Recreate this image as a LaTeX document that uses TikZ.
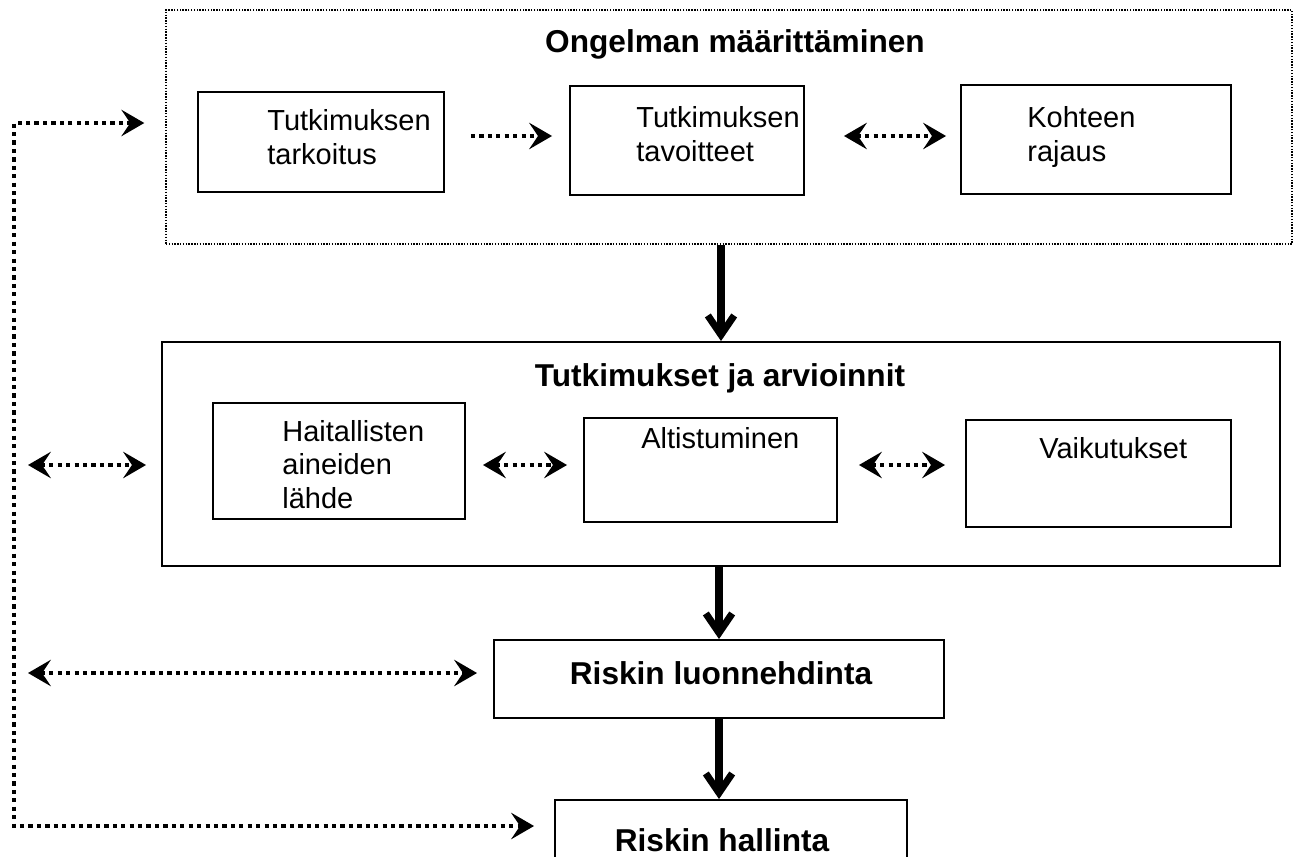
\documentclass[tikz,border=0pt]{standalone}
\usepackage{fontspec}
\setmainfont{Liberation Sans}
\usetikzlibrary{arrows.meta,positioning}

\tikzset{
  box/.style={shape=rectangle, draw=black, line width=1.1pt, inner sep=0pt},
  dotbox/.style={shape=rectangle, draw=black, line width=0.8pt, dash pattern=on 0.8pt off 0.8pt, inner sep=0pt},
  txt/.style={inner sep=0pt, align=left, font=\fontsize{16.5pt}{19pt}\selectfont},
  ttl/.style={inner sep=0pt, font=\fontsize{18pt}{21pt}\selectfont\bfseries},
  dotline/.style={line width=2.4pt, dash pattern=on 2.4pt off 2.4pt},
  tip/.tip={Stealth[length=13pt,width=15pt,inset=5pt]},
  bigarrow/.style={line width=4pt, -{Straight Barb[length=11pt,width=15pt]}}
}

\begin{document}
\begin{tikzpicture}[x=0.02cm,y=-0.02cm]
  \useasboundingbox (0,0) rectangle (1300,856);

  % problem definition
  \node[dotbox, minimum width=1126*0.02cm, minimum height=234*0.02cm] (o1) at (729,127) {};
  \node[ttl] (o1t) at (735,44) {Ongelman määrittäminen};
  \node[box, minimum width=246*0.02cm, minimum height=100*0.02cm] (tark) at (321,142) {};
  \node[box, minimum width=234*0.02cm, minimum height=109*0.02cm] (tav) at (687,140.5) {};
  \node[box, minimum width=270*0.02cm, minimum height=109*0.02cm] (koh) at (1096,139.5) {};
  \node[txt, anchor=base west] (tarkt) at ([shift={(70,73)}]tark.north west) {Tutkimuksen\\tarkoitus};
  \node[txt, anchor=base west] (tavt) at ([shift={(67,76)}]tav.north west) {Tutkimuksen\\tavoitteet};
  \node[txt, anchor=base west] (koht) at ([shift={(67,77)}]koh.north west) {Kohteen\\rajaus};
  \draw[dotline, -tip] ([shift={(26,0)}]tark.east|-0,136) -- ([shift={(-17,0)}]tav.west|-0,136);
  \draw[dotline, tip-tip] ([shift={(39,0)}]tav.east|-0,136) -- ([shift={(-14,0)}]koh.west|-0,136);

  % studies and assessments
  \node[box, minimum width=1118*0.02cm, minimum height=224*0.02cm] (o2) at (721,454) {};
  \node[ttl] (o2t) at (720,378) {Tutkimukset ja arvioinnit};
  \node[box, minimum width=252*0.02cm, minimum height=116*0.02cm] (hai) at (339,461) {};
  \node[box, minimum width=253*0.02cm, minimum height=104*0.02cm] (alt) at (710.5,470) {};
  \node[box, minimum width=265*0.02cm, minimum height=107*0.02cm] (vai) at (1098.5,473.5) {};
  \node[txt, anchor=base west] (hait) at ([shift={(70,106)}]hai.north west) {Haitallisten\\aineiden\\lähde};
  \node[txt, anchor=base west] (altt) at ([shift={(58,31)}]alt.north west) {Altistuminen};
  \node[txt, anchor=base west] (vait) at ([shift={(74,39)}]vai.north west) {Vaikutukset};
  \draw[dotline, tip-tip] ([shift={(17,0)}]hai.east|-0,465) -- ([shift={(-16,0)}]alt.west|-0,465);
  \draw[dotline, tip-tip] ([shift={(21,0)}]alt.east|-0,465) -- ([shift={(-20,0)}]vai.west|-0,465);

  % risk characterisation and management
  \node[box, minimum width=450*0.02cm, minimum height=78*0.02cm] (luo) at (719,679) {};
  \node[ttl] (luot) at (721,673) {Riskin luonnehdinta};
  \node[box, minimum width=352*0.02cm, minimum height=80*0.02cm] (hal) at (731,840) {};
  \node[ttl] (halt) at (722,840) {Riskin hallinta};

  \draw[bigarrow] (o1.south -| o2.north) -- (o2.north);
  \draw[bigarrow] (o2.south -| luo.north) -- (luo.north);
  \draw[bigarrow] (luo.south) -- (luo.south |- hal.north);

  % feedback on the left
  \coordinate (lt) at (14,123);
  \coordinate (lb) at (14,826);
  \draw[dotline, tip-tip] ([shift={(-21,0)}]o1.west|-lt) -- (lt) -- (lb) -- ([shift={(-20,0)}]hal.west|-lb);
  \coordinate (l2) at (28,465);
  \coordinate (l3) at (28,673);
  \draw[dotline, tip-tip] (l2) -- ([shift={(-15,0)}]o2.west|-l2);
  \draw[dotline, tip-tip] (l3) -- ([shift={(-16,0)}]luo.west|-l3);
\end{tikzpicture}
\end{document}
